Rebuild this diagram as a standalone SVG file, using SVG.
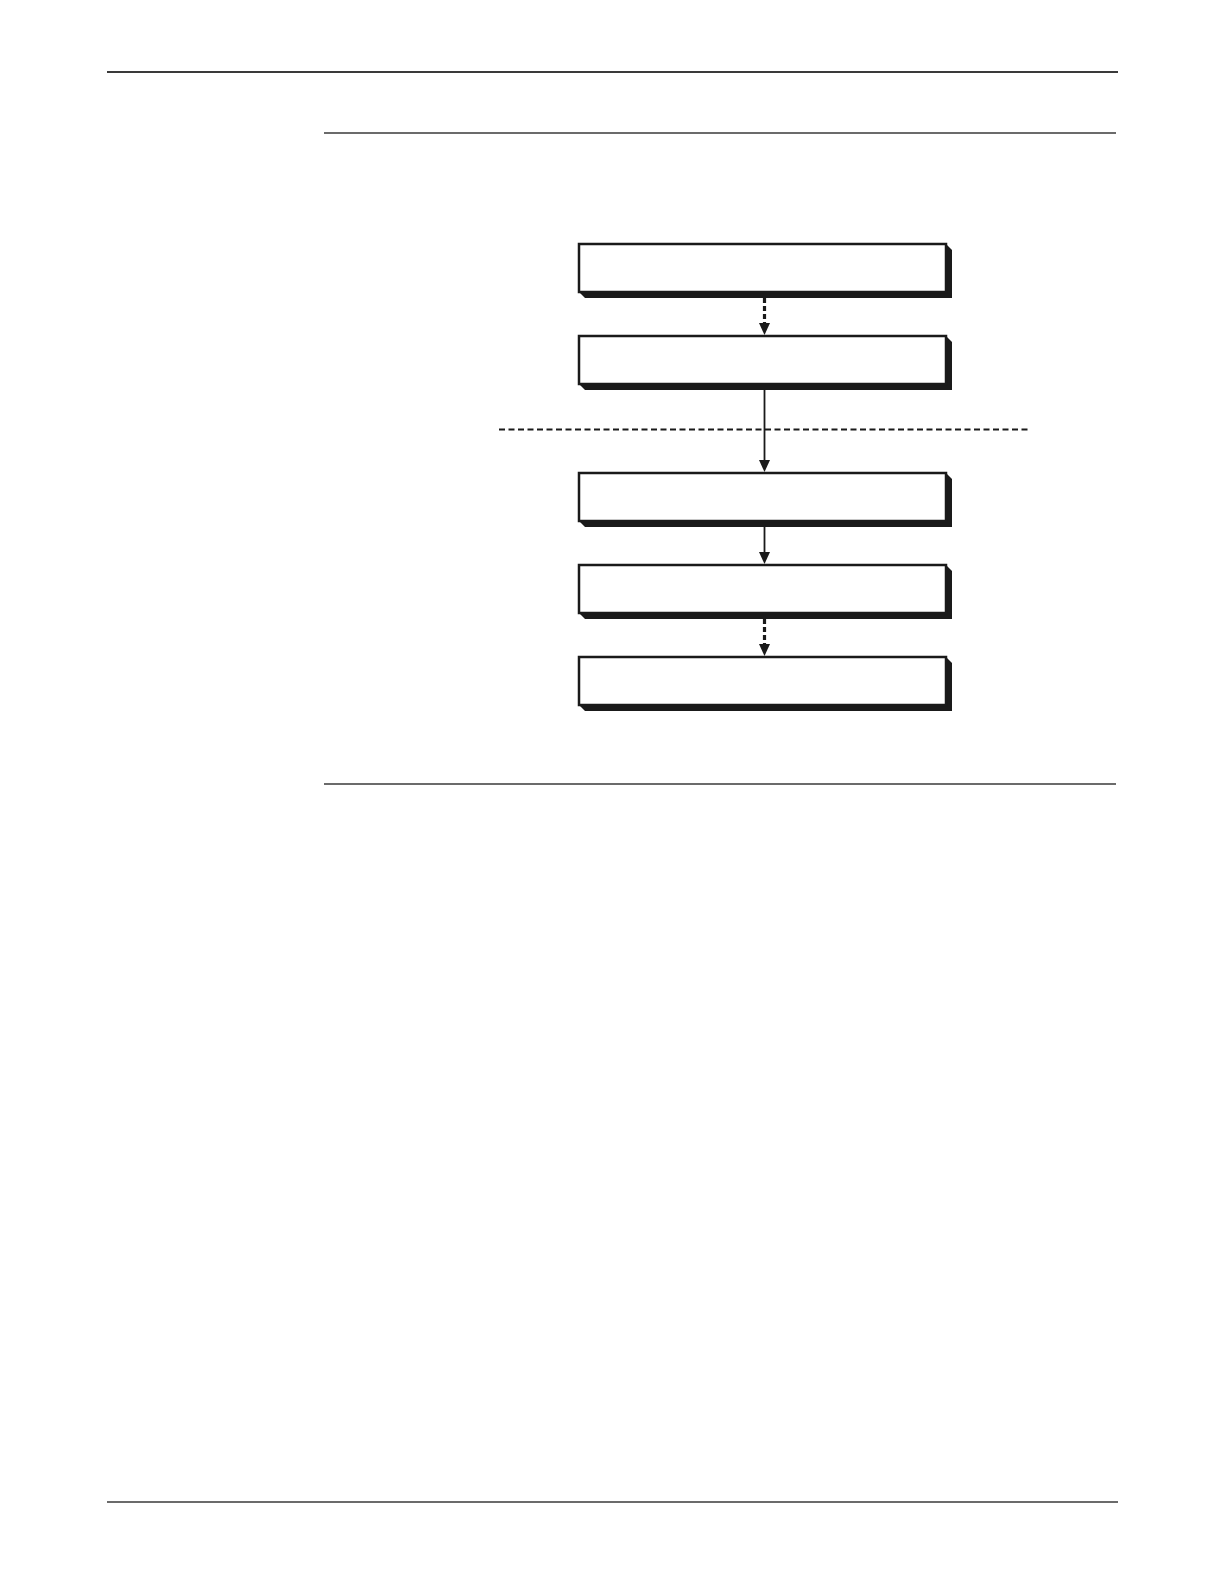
<svg xmlns="http://www.w3.org/2000/svg" width="1224" height="1584" viewBox="0 0 1224 1584">
<style>
.rule{stroke:#3a3a3a;fill:none}
.box{fill:#fff;stroke:#1a1a1a;stroke-width:2.5}
.shadow{fill:#1a1a1a}
.solid{stroke:#1a1a1a;stroke-width:1.8;fill:none}
.dash{stroke:#1a1a1a;stroke-width:3.2;stroke-dasharray:5 3;fill:none}
.sep{stroke:#1a1a1a;stroke-width:1.8;stroke-dasharray:6 3.5;fill:none}
.head{fill:#1a1a1a}
</style>
<rect width="1224" height="1584" fill="#fff"/>
<g id="page-rules">
<line class="rule" x1="107" y1="72" x2="1118" y2="72" stroke-width="2"/>
<line class="rule" x1="324" y1="133" x2="1116" y2="133" stroke-width="1.3"/>
<line class="rule" x1="324" y1="784" x2="1116" y2="784" stroke-width="1.3"/>
<line class="rule" x1="107" y1="1502" x2="1118" y2="1502" stroke-width="1.7"/>
</g>
<g id="separator">
<line class="sep" x1="499" y1="429.5" x2="1028" y2="429.5"/>
</g>
<g id="node1">
<polygon class="shadow" points="579,292 585,298 952,298 952,250 946,244"/>
<rect class="box" x="579" y="244" width="367" height="48"/>
</g>
<g id="node2">
<polygon class="shadow" points="579,384 585,390 952,390 952,342 946,336"/>
<rect class="box" x="579" y="336" width="367" height="48"/>
</g>
<g id="node3">
<polygon class="shadow" points="579,521 585,527 952,527 952,479 946,473"/>
<rect class="box" x="579" y="473" width="367" height="48"/>
</g>
<g id="node4">
<polygon class="shadow" points="579,613 585,619 952,619 952,571 946,565"/>
<rect class="box" x="579" y="565" width="367" height="48"/>
</g>
<g id="node5">
<polygon class="shadow" points="579,705 585,711 952,711 952,663 946,657"/>
<rect class="box" x="579" y="657" width="367" height="48"/>
</g>
<g id="connectors">
<line class="dash" x1="764.5" y1="298" x2="764.5" y2="324"/>
<path class="head" d="M759,323 L770,323 L764.5,335 Z"/>
<line class="solid" x1="764.5" y1="390" x2="764.5" y2="461"/>
<path class="head" d="M759,460 L770,460 L764.5,472 Z"/>
<line class="solid" x1="764.5" y1="527" x2="764.5" y2="553"/>
<path class="head" d="M759,552 L770,552 L764.5,564 Z"/>
<line class="dash" x1="764.5" y1="619" x2="764.5" y2="645"/>
<path class="head" d="M759,644 L770,644 L764.5,656 Z"/>
</g>
</svg>
